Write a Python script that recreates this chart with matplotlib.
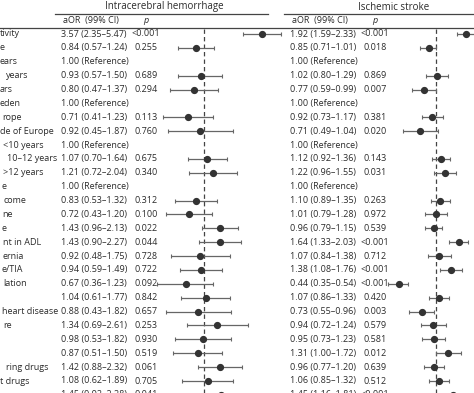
import numpy as np
import matplotlib
matplotlib.use('Agg')
import matplotlib.pyplot as plt

plt.rcParams['font.family'] = ['Open Sans', 'DejaVu Sans']

# 左侧标签(原图被裁切,只保留可见部分)
labels = ['tivity', 'e', 'ears', 'years', 'ars', 'eden', 'rope', 'de of Europe',
          '<10 years', '10–12 years', '>12 years', 'e', 'come', 'ne', 'e',
          'nt in ADL', 'ernia', 'e/TIA', 'lation', '', 'heart disease', 're',
          '', '', 'ring drugs', 't drugs', '']
label_x = [0, 0, 0, 6, 0, 0, 2, 0, 3, 7, 3, 2, 4, 2, 2, 3, 3, 2, 3, 0, 2, 3,
           0, 0, 6, 0, 0]

# Intracerebral hemorrhage
ich_or = [3.57, 0.84, np.nan, 0.93, 0.80, np.nan, 0.71, 0.92, np.nan, 1.07, 1.21,
          np.nan, 0.83, 0.72, 1.43, 1.43, 0.92, 0.94, 0.67, 1.04, 0.88, 1.34,
          0.98, 0.87, 1.42, 1.08, 1.45]
ich_lo = [2.35, 0.57, np.nan, 0.57, 0.47, np.nan, 0.41, 0.45, np.nan, 0.70, 0.72,
          np.nan, 0.53, 0.43, 0.96, 0.90, 0.48, 0.59, 0.36, 0.61, 0.43, 0.69,
          0.53, 0.51, 0.88, 0.62, 0.92]
ich_hi = [5.47, 1.24, np.nan, 1.50, 1.37, np.nan, 1.23, 1.87, np.nan, 1.64, 2.04,
          np.nan, 1.32, 1.20, 2.13, 2.27, 1.75, 1.49, 1.23, 1.77, 1.82, 2.61,
          1.82, 1.50, 2.32, 1.89, 2.28]
ich_p = ['<0.001', '0.255', '', '0.689', '0.294', '', '0.113', '0.760', '',
         '0.675', '0.340', '', '0.312', '0.100', '0.022', '0.044', '0.728',
         '0.722', '0.092', '0.842', '0.657', '0.253', '0.930', '0.519', '0.061',
         '0.705', '0.041']

# Ischemic stroke
isc_or = [1.92, 0.85, np.nan, 1.02, 0.77, np.nan, 0.92, 0.71, np.nan, 1.12, 1.22,
          np.nan, 1.10, 1.01, 0.96, 1.64, 1.07, 1.38, 0.44, 1.07, 0.73, 0.94,
          0.95, 1.31, 0.96, 1.06, 1.45]
isc_lo = [1.59, 0.71, np.nan, 0.80, 0.59, np.nan, 0.73, 0.49, np.nan, 0.92, 0.96,
          np.nan, 0.89, 0.79, 0.79, 1.33, 0.84, 1.08, 0.35, 0.86, 0.55, 0.72,
          0.73, 1.00, 0.77, 0.85, 1.16]
isc_hi = [2.33, 1.01, np.nan, 1.29, 0.99, np.nan, 1.17, 1.04, np.nan, 1.36, 1.55,
          np.nan, 1.35, 1.28, 1.15, 2.03, 1.38, 1.76, 0.54, 1.33, 0.96, 1.24,
          1.23, 1.72, 1.20, 1.32, 1.81]
isc_p = ['<0.001', '0.018', '', '0.869', '0.007', '', '0.381', '0.020', '',
         '0.143', '0.031', '', '0.263', '0.972', '0.539', '<0.001', '0.712',
         '<0.001', '<0.001', '0.420', '0.003', '0.579', '0.581', '0.012', '0.639',
         '0.512', '<0.001']

W, H = 474, 393
Y0, STEP = 34.0, 13.88
K = 45.6  # 每个ln单位的像素
TXT = '#2b2b2b'
FS = 6.5

fig = plt.figure(figsize=(W / 100, H / 100), dpi=100)
ax = fig.add_axes([0, 0, 1, 1])
ax.set_xlim(0, W)
ax.set_ylim(H, 0)
ax.axis('off')

rows = np.arange(len(labels))
ys = Y0 + rows * STEP


def ci_text(o, lo, hi):
    if np.isnan(o):
        return '1.00 (Reference)'
    return f'{o:.2f} ({lo:.2f}–{hi:.2f})'


def forest(cx, left, right, ors, los, his):
    fa = fig.add_axes([left / W, 0, (right - left) / W, 1])
    fa.set_xscale('log')
    fa.set_xlim(np.exp((left - cx) / K), np.exp((right - cx) / K))
    fa.set_ylim(H, 0)
    fa.axis('off')
    fa.plot([1, 1], [29, H], color='#444444', lw=0.9, ls=(0, (3.5, 2.5)))
    o = np.array(ors)
    m = ~np.isnan(o)
    fa.errorbar(o[m], ys[m], xerr=[o[m] - np.array(los)[m], np.array(his)[m] - o[m]],
                fmt='none', ecolor='#666666', elinewidth=0.9, capsize=1.5,
                capthick=0.8, clip_on=False)
    fa.plot(o[m], ys[m], 'o', color='#333333', ms=4.2, clip_on=False)
    return fa


forest(204, 160, 250, ich_or, ich_lo, ich_hi)
forest(436, 390, 474, isc_or, isc_lo, isc_hi)

# 表头
ax.text(164, 7, 'Intracerebral hemorrhage', ha='center', va='center', fontsize=7.0, color=TXT)
ax.text(394, 7, 'Ischemic stroke', ha='center', va='center', fontsize=7.0, color=TXT)
ax.plot([55, 268], [13.5, 13.5], color='#444444', lw=0.9)
ax.plot([284, W], [13.5, 13.5], color='#444444', lw=0.9)
ax.plot([0, W], [27.5, 27.5], color='#444444', lw=0.9)
ax.text(63, 20.5, 'aOR  (99% CI)', ha='left', va='center', fontsize=FS, color=TXT)
ax.text(146, 20.5, 'p', ha='center', va='center', fontsize=FS, color=TXT, style='italic')
ax.text(292, 20.5, 'aOR  (99% CI)', ha='left', va='center', fontsize=FS, color=TXT)
ax.text(375, 20.5, 'p', ha='center', va='center', fontsize=FS, color=TXT, style='italic')

for i, y in enumerate(ys):
    ax.text(label_x[i], y, labels[i], ha='left', va='center', fontsize=FS, color=TXT)
    ax.text(61, y, ci_text(ich_or[i], ich_lo[i], ich_hi[i]), ha='left', va='center',
            fontsize=FS, color=TXT)
    ax.text(146, y, ich_p[i], ha='center', va='center', fontsize=FS, color=TXT)
    ax.text(290, y, ci_text(isc_or[i], isc_lo[i], isc_hi[i]), ha='left', va='center',
            fontsize=FS, color=TXT)
    ax.text(375, y, isc_p[i], ha='center', va='center', fontsize=FS, color=TXT)

fig.savefig('out.png', dpi=100)
